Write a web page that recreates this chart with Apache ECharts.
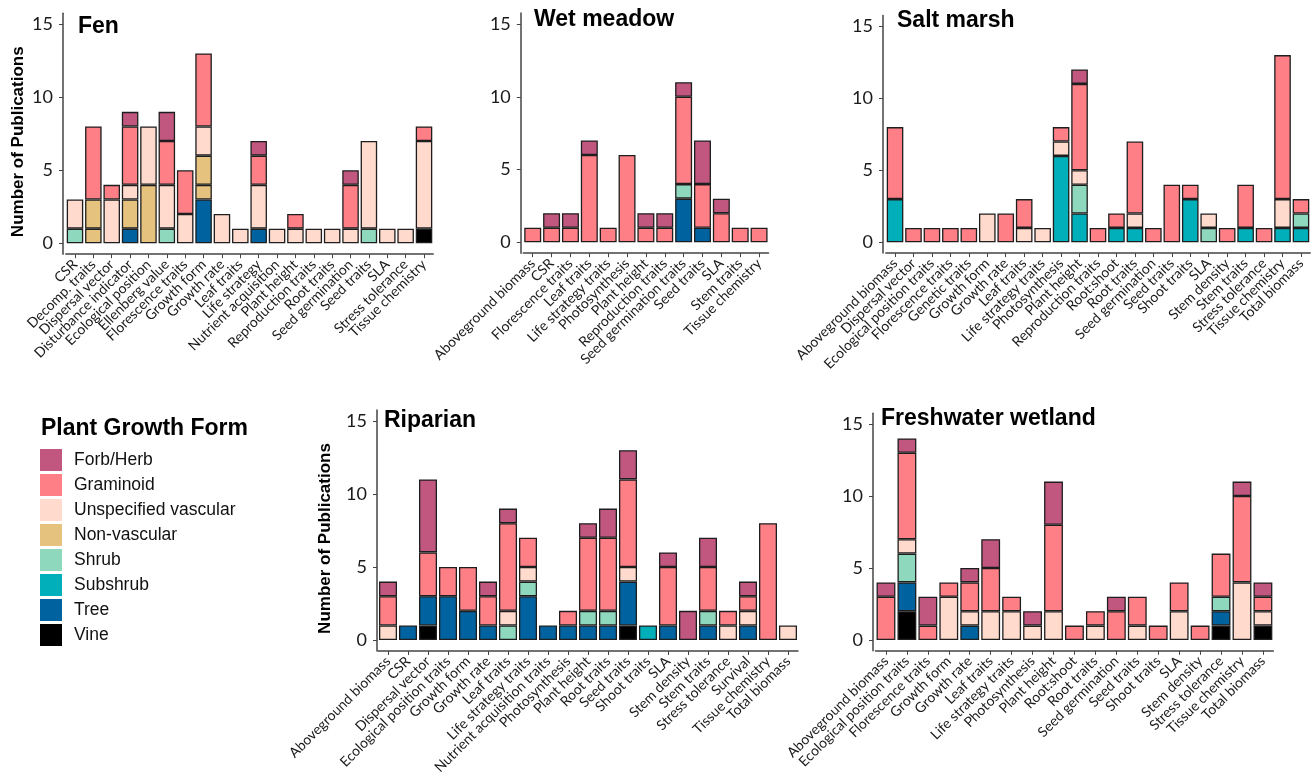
<!DOCTYPE html>
<html><head><meta charset="utf-8">
<script src="https://cdn.jsdelivr.net/npm/echarts@6/dist/echarts.min.js"></script>
<style>html,body{margin:0;padding:0;background:#fff}#c{width:1316px;height:777px}</style>
</head><body><div id="c"></div>
<script>
// ---------- DATA ----------
const legendNames = ['Forb/Herb','Graminoid','Unspecified vascular','Non-vascular','Shrub','Subshrub','Tree','Vine'];
const yTickValues = [0, 5, 10, 15];

// Fen
const fenCats = ['CSR','Decomp. traits','Dispersal vector','Disturbance indicator','Ecological position','Ellenberg value','Florescence traits','Growth form','Growth rate','Leaf traits','Life strategy','Nutrient acquisition','Plant height','Reproduction traits','Root traits','Seed germination','Seed traits','SLA','Stress tolerance','Tissue chemistry'];
const fenVine      = [0,0,0,0,0,0,0,0,0,0,0,0,0,0,0,0,0,0,0,1];
const fenTree      = [0,0,0,1,0,0,0,3,0,0,1,0,0,0,0,0,0,0,0,0];
const fenShrub     = [1,0,0,0,0,1,0,0,0,0,0,0,0,0,0,0,1,0,0,0];
const fenNonVascA  = [0,1,0,2,4,0,0,1,0,0,0,0,0,0,0,0,0,0,0,0];
const fenNonVascB  = [0,2,0,0,0,0,0,2,0,0,0,0,0,0,0,0,0,0,0,0];
const fenUnspec    = [2,0,3,1,4,3,2,2,2,1,3,1,1,1,1,1,6,1,1,6];
const fenGram      = [0,5,1,4,0,3,3,5,0,0,2,0,1,0,0,3,0,0,0,1];
const fenForb      = [0,0,0,1,0,2,0,0,0,0,1,0,0,0,0,1,0,0,0,0];

// Wet meadow
const wetCats  = ['Aboveground biomass','CSR','Florescence traits','Leaf traits','Life strategy traits','Photosynthesis','Plant height','Reproduction traits','Seed germination traits','Seed traits','SLA','Stem traits','Tissue chemistry'];
const wetTree  = [0,0,0,0,0,0,0,0,3,1,0,0,0];
const wetShrub = [0,0,0,0,0,0,0,0,1,0,0,0,0];
const wetGram  = [1,1,1,6,1,6,1,1,6,3,2,1,1];
const wetForb  = [0,1,1,1,0,0,1,1,1,3,1,0,0];

// Salt marsh
const saltCats     = ['Aboveground biomass','Dispersal vector','Ecological position traits','Florescence traits','Genetic traits','Growth form','Growth rate','Leaf traits','Life strategy traits','Photosynthesis','Plant height','Reproduction traits','Root:shoot','Root traits','Seed germination','Seed traits','Shoot traits','SLA','Stem density','Stem traits','Stress tolerance','Tissue chemistry','Total biomass'];
const saltSubshrub = [3,0,0,0,0,0,0,0,0,6,2,0,1,1,0,0,3,0,0,1,0,1,1];
const saltShrub    = [0,0,0,0,0,0,0,0,0,0,2,0,0,0,0,0,0,1,0,0,0,0,1];
const saltUnspec   = [0,0,0,0,0,2,0,1,1,1,1,0,0,1,0,0,0,1,0,0,0,2,0];
const saltGram     = [5,1,1,1,1,0,2,2,0,1,6,1,1,5,1,4,1,0,1,3,1,10,1];
const saltForb     = [0,0,0,0,0,0,0,0,0,0,1,0,0,0,0,0,0,0,0,0,0,0,0];

// Riparian
const ripCats     = ['Aboveground biomass','CSR','Dispersal vector','Ecological position traits','Growth form','Growth rate','Leaf traits','Life strategy traits','Nutrient acquisition traits','Photosynthesis','Plant height','Root traits','Seed traits','Shoot traits','SLA','Stem density','Stem traits','Stress tolerance','Survival','Tissue chemistry','Total biomass'];
const ripVine     = [0,0,1,0,0,0,0,0,0,0,0,0,1,0,0,0,0,0,0,0,0];
const ripTree     = [0,1,2,3,2,1,0,3,1,1,1,1,3,0,1,0,1,0,1,0,0];
const ripSubshrub = [0,0,0,0,0,0,0,0,0,0,0,0,0,1,0,0,0,0,0,0,0];
const ripShrub    = [0,0,0,0,0,0,1,1,0,0,1,1,0,0,0,0,1,0,0,0,0];
const ripUnspec   = [1,0,0,0,0,0,1,1,0,0,0,0,1,0,0,0,0,1,1,0,1];
const ripGram     = [2,0,3,2,3,2,6,2,0,1,5,5,6,0,4,0,3,1,1,8,0];
const ripForb     = [1,0,5,0,0,1,1,0,0,0,1,2,2,0,1,2,2,0,1,0,0];

// Freshwater wetland
const fwCats   = ['Aboveground biomass','Ecological position traits','Florescence traits','Growth form','Growth rate','Leaf traits','Life strategy traits','Photosynthesis','Plant height','Root:shoot','Root traits','Seed germination','Seed traits','Shoot traits','SLA','Stem density','Stress tolerance','Tissue chemistry','Total biomass'];
const fwVine   = [0,2,0,0,0,0,0,0,0,0,0,0,0,0,0,0,1,0,1];
const fwTree   = [0,2,0,0,1,0,0,0,0,0,0,0,0,0,0,0,1,0,0];
const fwShrub  = [0,2,0,0,0,0,0,0,0,0,0,0,0,0,0,0,1,0,0];
const fwUnspec = [0,1,0,3,1,2,2,1,2,0,1,0,1,0,2,0,0,4,1];
const fwGram   = [3,6,1,1,2,3,1,0,6,1,1,2,2,1,2,1,3,6,1];
const fwForb   = [1,1,2,0,1,2,0,1,3,0,0,1,0,0,0,0,0,1,1];

// ---------- STYLE / LAYOUT ----------
const COL = {
  'Vine':'#000000','Tree':'#0063A0','Subshrub':'#00AFB9','Shrub':'#8ED8BE',
  'Non-vascular':'#E6C27F','Unspecified vascular':'#FFDACD','Graminoid':'#FF7F87','Forb/Herb':'#C1567F'
};
const panels = [
  {title:'Fen', cats:fenCats, tx:78, ty:15, grid:{left:65.8, top:13.3, width:367.4, height:240.9}, yOff:2.8, yName:true, nameGap:36,
   stack:[['Vine',fenVine],['Tree',fenTree],['Shrub',fenShrub],['Non-vascular',fenNonVascA],['Non-vascular',fenNonVascB],['Unspecified vascular',fenUnspec],['Graminoid',fenGram],['Forb/Herb',fenForb]]},
  {title:'Wet meadow', cats:wetCats, tx:534, ty:8, grid:{left:523.3, top:13.1, width:245.2, height:240.1}, yOff:2.5, yName:false,
   stack:[['Tree',wetTree],['Shrub',wetShrub],['Graminoid',wetGram],['Forb/Herb',wetForb]]},
  {title:'Salt marsh', cats:saltCats, tx:897, ty:9, grid:{left:885.8, top:15.5, width:424.4, height:237.6}, yOff:2.8, yName:false,
   stack:[['Subshrub',saltSubshrub],['Shrub',saltShrub],['Unspecified vascular',saltUnspec],['Graminoid',saltGram],['Forb/Herb',saltForb]]},
  {title:'Riparian', cats:ripCats, tx:384, ty:409, grid:{left:378, top:410, width:420, height:242}, yOff:1, yName:true, nameGap:43,
   stack:[['Vine',ripVine],['Tree',ripTree],['Subshrub',ripSubshrub],['Shrub',ripShrub],['Unspecified vascular',ripUnspec],['Graminoid',ripGram],['Forb/Herb',ripForb]]},
  {title:'Freshwater wetland', cats:fwCats, tx:881, ty:407, grid:{left:875.5, top:413.2, width:397.9, height:237.6}, yOff:2.5, yName:false,
   stack:[['Vine',fwVine],['Tree',fwTree],['Shrub',fwShrub],['Unspecified vascular',fwUnspec],['Graminoid',fwGram],['Forb/Herb',fwForb]]}
];

const axisCol = '#444';
const lblFont = 'Lato, "Open Sans", sans-serif';
const boldFont = '"Liberation Sans", Arial, sans-serif';

const grids = [], xAxes = [], yAxes = [], series = [], titles = [];
panels.forEach((p, i) => {
  grids.push(Object.assign({containLabel:false}, p.grid));
  xAxes.push({
    type:'category', gridIndex:i, data:p.cats, boundaryGap:true,
    axisLine:{show:true, onZero:false, lineStyle:{color:axisCol, width:1.5}},
    axisTick:{show:true, alignWithLabel:true, length:4, lineStyle:{color:axisCol, width:1}},
    axisLabel:{interval:0, rotate:45, margin:8, fontSize:14, fontFamily:lblFont, color:'#1a1a1a'},
    splitLine:{show:false}
  });
  yAxes.push({
    type:'value', gridIndex:i, min:-0.75, max:15.75, offset:p.yOff,
    name: p.yName ? 'Number of Publications' : '',
    nameLocation:'middle', nameRotate:90, nameGap:p.nameGap || 30,
    nameTextStyle:{fontFamily:boldFont, fontWeight:'bold', fontSize:17, color:'#000', padding:[0,16,0,0]},
    axisLine:{show:true, lineStyle:{color:axisCol, width:1.5}},
    axisTick:{show:true, length:4, customValues:yTickValues, lineStyle:{color:axisCol, width:1}},
    axisLabel:{customValues:yTickValues, margin:10, fontSize:18, fontFamily:lblFont, color:'#1a1a1a'},
    splitLine:{show:false}
  });
  titles.push({text:p.title, left:p.tx, top:p.ty, padding:0,
    textStyle:{fontFamily:boldFont, fontWeight:'bold', fontSize:23, color:'#000'}});
  p.stack.forEach(([name, arr]) => {
    series.push({
      type:'bar', name:name, xAxisIndex:i, yAxisIndex:i, stack:'s'+i,
      barCategoryGap:'10%',
      itemStyle:{color:COL[name], borderColor:'#1e1e1e', borderWidth:1.3},
      emphasis:{disabled:true},
      data: arr.map(v => v === 0 ? null : v)
    });
  });
});
titles.push({text:'Plant Growth Form', left:41, top:417, padding:0,
  textStyle:{fontFamily:boldFont, fontWeight:'bold', fontSize:23, color:'#000'}});

const chart = echarts.init(document.getElementById('c'), null, {renderer:'canvas'});
chart.setOption({
  animation:false,
  backgroundColor:'#fff',
  title:titles,
  grid:grids, xAxis:xAxes, yAxis:yAxes, series:series,
  legend:{
    data:legendNames, orient:'vertical', left:40, top:449, padding:0,
    itemWidth:22, itemHeight:22, itemGap:3, icon:'rect',
    itemStyle:{borderWidth:0},
    selectedMode:false,
    textStyle:{fontFamily:boldFont, fontSize:17.5, color:'#111', padding:[0,0,0,7]}
  }
});
</script>
</body></html>
